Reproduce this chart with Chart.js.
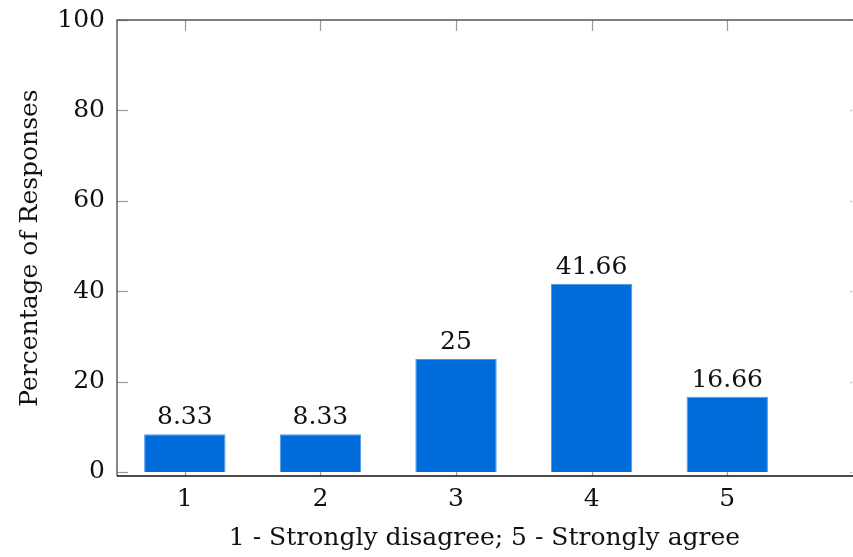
<!DOCTYPE html>
<html>
<head>
<meta charset="utf-8">
<script src="https://cdn.jsdelivr.net/npm/chart.js@4/dist/chart.umd.min.js"></script>
<style>
html,body{margin:0;padding:0;background:#fff;}
#wrap{width:853px;height:557px;position:relative;}
</style>
</head>
<body>
<div id="wrap"><canvas id="c" width="853" height="557"></canvas></div>
<script>
const categories = ['1', '2', '3', '4', '5'];
const values = [8.33, 8.33, 25, 41.66, 16.66];
const valueLabels = ['8.33', '8.33', '25', '41.66', '16.66'];
const yTicks = [0, 20, 40, 60, 80, 100];
const xTitle = '1 - Strongly disagree; 5 - Strongly agree';
const yTitle = 'Percentage of Responses';

const FONT = "'DejaVu Serif', serif";
const FS = 25;

const framePlugin = {
  id: 'frame',
  afterDraw(chart) {
    const ctx = chart.ctx;
    const a = chart.chartArea;
    const xs = chart.scales.x, ys = chart.scales.y;
    ctx.save();
    ctx.strokeStyle = '#9a9a9a';
    ctx.lineWidth = 1.2;
    yTicks.forEach(v => {
      const py = Math.round(ys.getPixelForValue(v)) + 0.5;
      ctx.beginPath(); ctx.moveTo(a.left, py); ctx.lineTo(a.left + 11, py); ctx.stroke();
      ctx.beginPath(); ctx.moveTo(a.right - 1.5, py); ctx.lineTo(a.right, py); ctx.stroke();
    });
    categories.forEach(c => {
      const px = Math.round(xs.getPixelForValue(parseFloat(c))) + 0.5;
      ctx.beginPath(); ctx.moveTo(px, a.top); ctx.lineTo(px, a.top + 11); ctx.stroke();
      ctx.beginPath(); ctx.moveTo(px, a.bottom - 4); ctx.lineTo(px, a.bottom); ctx.stroke();
    });
    ctx.strokeStyle = '#555';
    ctx.lineWidth = 1.4;
    ctx.beginPath();
    ctx.moveTo(a.right + 2, a.top);
    ctx.lineTo(a.left, a.top);
    ctx.lineTo(a.left, a.bottom);
    ctx.stroke();
    ctx.strokeStyle = '#111';
    ctx.beginPath();
    ctx.moveTo(a.left, a.bottom);
    ctx.lineTo(a.right + 2, a.bottom);
    ctx.stroke();
    ctx.fillStyle = '#111';
    ctx.font = FS + 'px ' + FONT;
    ctx.textAlign = 'center';
    ctx.textBaseline = 'alphabetic';
    const meta = chart.getDatasetMeta(0);
    meta.data.forEach((bar, i) => {
      ctx.fillText(valueLabels[i], bar.x, bar.y - 10);
    });
    ctx.restore();
  }
};

new Chart(document.getElementById('c'), {
  type: 'bar',
  data: {
    datasets: [{
      data: categories.map((c, i) => ({ x: parseFloat(c), y: values[i] })),
      backgroundColor: '#006cd9',
      borderColor: '#4b97e6',
      borderWidth: 1,
      barPercentage: 0.6,
      categoryPercentage: 1.0
    }]
  },
  plugins: [framePlugin],
  options: {
    responsive: false,
    animation: false,
    devicePixelRatio: 1,
    layout: { padding: { top: 20, right: 1, left: 0, bottom: 0 } },
    plugins: { legend: { display: false }, tooltip: { enabled: false } },
    scales: {
      x: {
        type: 'linear',
        offset: false,
        min: 0.5,
        max: 5.92,
        afterBuildTicks: s => { s.ticks = categories.map(c => ({ value: parseFloat(c) })); },
        afterFit: s => { s.height = 81; s.paddingLeft = 0; s.paddingRight = 0; },
        grid: { display: false, drawTicks: false, offset: false },
        border: { display: false },
        ticks: {
          color: '#111',
          font: { family: FONT, size: FS },
          padding: 8,
          maxRotation: 0,
          autoSkip: false,
          callback: v => String(v)
        },
        title: {
          display: true,
          text: xTitle,
          color: '#111',
          font: { family: FONT, size: FS },
          padding: { top: 0, bottom: 4 }
        }
      },
      y: {
        type: 'linear',
        min: -0.9,
        max: 100,
        afterBuildTicks: s => { s.ticks = yTicks.map(v => ({ value: v })); },
        afterFit: s => { s.width = 117; s.paddingTop = 0; s.paddingBottom = 0; },
        grid: { display: false, drawTicks: false },
        border: { display: false },
        ticks: {
          color: '#111',
          font: { family: FONT, size: FS },
          padding: 12,
          callback: v => String(v)
        },
        title: {
          display: true,
          text: yTitle,
          color: '#111',
          font: { family: FONT, size: FS },
          padding: { top: 15, bottom: 0 }
        }
      }
    }
  }
});
</script>
</body>
</html>
